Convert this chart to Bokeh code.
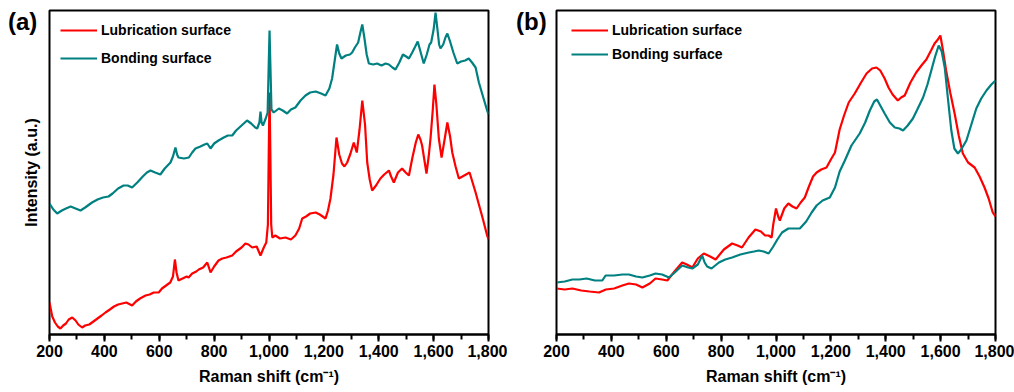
from bokeh.plotting import figure
from bokeh.layouts import row
from bokeh.models import Range1d, NumeralTickFormatter, SingleIntervalTicker, FixedTicker, Div
from bokeh.embed import file_html
from bokeh.resources import INLINE

# ---------------- data ----------------
a_lub_x = [200,210,220,230,240,250,260,270,283,295,305,319,330,345,360,375,390,404,420,435,450,465,480,501,515,530,550,565,580,598,610,625,640,650,657,663,670,685,700,707,720,735,744,760,775,787,800,816,830,845,866,880,900,914,925,939,955,969,981,990,996,999,1002,1005,1008,1012,1023,1040,1060,1080,1096,1110,1121,1135,1150,1170,1185,1206,1215,1224,1235,1246,1256,1266,1275,1285,1297,1309,1320,1330,1340,1350,1358,1367,1376,1390,1406,1420,1437,1445,1455,1470,1485,1498,1510,1522,1535,1544,1552,1558,1566,1574,1582,1589,1597,1603,1610,1619,1629,1640,1650,1660,1668,1680,1692,1705,1718,1731,1742,1753,1765,1780,1795,1800]
a_lub_y = [32,18,12,8,6,9,11,15,17,14,10,7,9,10,13,16,19,22,25,28,30,31,32,29,33,36,39,40,42,42,46,49,52,58,75,62,54,56,58,57,61,63,65,67,72,62,68,74,76,77,79,83,87,91,90,87,88,79,87,92,110,180,242,180,110,97,99,96,97,95,99,106,116,118,121,122,120,116,124,136,160,197,180,171,168,172,181,192,182,205,234,210,172,155,144,149,156,160,164,158,152,162,166,162,159,176,192,200,195,189,175,161,178,197,225,250,230,196,177,195,212,198,182,168,156,158,160,162,152,142,130,115,99,95]

a_bond_x = [200,214,228,245,260,277,295,313,330,355,375,395,415,430,450,470,485,501,520,540,555,568,585,604,620,641,650,659,665,670,690,708,720,732,750,765,775,787,800,816,835,850,866,880,900,920,935,950,957,965,969,973,978,988,995,999,1002,1005,1009,1017,1036,1050,1066,1080,1096,1115,1133,1150,1170,1190,1206,1220,1230,1240,1248,1256,1264,1280,1295,1303,1313,1325,1333,1340,1348,1356,1364,1380,1394,1410,1425,1437,1450,1461,1475,1488,1500,1510,1522,1533,1542,1550,1558,1564,1575,1585,1591,1600,1607,1614,1620,1625,1635,1643,1650,1660,1672,1686,1700,1715,1728,1740,1753,1765,1780,1795,1800]
a_bond_y = [131,125,121,124,126,128,126,124,127,132,135,137,138,141,146,149,149,147,152,158,162,164,162,160,166,172,178,187,180,177,176,177,182,186,188,190,191,186,191,194,197,199,199,204,209,214,211,207,206,212,223,212,209,216,222,270,304,270,225,222,226,224,221,225,227,234,239,242,243,241,239,246,256,275,290,281,276,279,280,282,287,292,302,310,296,280,271,270,271,269,271,270,267,265,272,280,278,276,282,288,293,285,277,271,280,290,292,305,322,305,290,286,290,297,301,293,282,271,273,274,276,272,267,252,238,224,220]

b_lub_x = [200,230,258,290,320,355,380,410,440,464,490,513,540,561,585,604,630,658,675,695,715,737,760,780,810,840,860,876,900,925,945,960,973,984,990,1000,1008,1014,1030,1045,1060,1075,1090,1105,1120,1135,1148,1165,1184,1200,1215,1232,1248,1265,1287,1310,1330,1350,1366,1380,1396,1410,1425,1444,1456,1469,1490,1511,1530,1548,1565,1578,1590,1599,1608,1620,1635,1651,1666,1681,1700,1724,1742,1760,1775,1790,1800]
b_lub_y = [46,45,46,44,43,42,45,46,49,51,50,47,51,56,55,54,63,72,70,67,76,81,78,75,85,91,89,87,97,105,103,99,99,97,110,126,118,114,126,131,128,126,132,137,148,158,162,165,167,175,182,205,219,232,241,252,261,266,267,264,256,247,240,234,237,239,252,262,269,275,284,291,295,299,285,264,242,221,199,181,172,167,158,147,136,122,118]

b_bond_x = [200,230,258,283,310,340,367,379,410,440,464,490,513,540,561,585,610,635,658,680,695,715,731,740,749,765,792,815,840,870,901,920,937,955,973,990,1005,1022,1045,1065,1087,1110,1130,1148,1170,1196,1215,1232,1251,1275,1305,1325,1342,1358,1368,1382,1396,1415,1433,1450,1463,1480,1499,1515,1536,1552,1566,1580,1593,1604,1615,1627,1639,1650,1663,1675,1694,1712,1730,1748,1767,1785,1800]
b_bond_y = [52,53,55,55,56,54,54,59,59,60,60,58,57,59,61,60,57,63,69,67,66,70,79,72,68,66,72,75,77,80,82,83,84,83,81,88,95,102,106,106,106,113,122,129,134,137,147,163,174,189,201,212,224,233,235,228,221,212,207,206,204,209,216,225,237,250,264,278,289,283,267,235,204,186,181,185,194,210,226,236,244,250,254]

series_labels = ["Lubrication surface", "Bonding surface"]
panel_tags = ["(a)", "(b)"]
RED = "#FF0000"
TEAL = "#008080"
FONT = "Liberation Sans"


def make_panel(lub_x, lub_y, bond_x, bond_y, show_ylabel, legend_loc, spacing):
    p = figure(width=507, height=392, output_backend="svg", toolbar_location=None,
               x_range=Range1d(200, 1800), y_range=Range1d(0, 324),
               min_border_left=49, min_border_right=19,
               min_border_top=10, min_border_bottom=58)
    p.grid.visible = False
    p.outline_line_color = "black"
    p.outline_line_width = 2

    p.line(lub_x, lub_y, line_color=RED, line_width=2.2, legend_label=series_labels[0])
    p.line(bond_x, bond_y, line_color=TEAL, line_width=2.2, legend_label=series_labels[1])

    xa = p.xaxis[0]
    xa.ticker = SingleIntervalTicker(interval=200, num_minor_ticks=2)
    xa.formatter = NumeralTickFormatter(format="0,0")
    xa.axis_line_width = 2
    xa.major_tick_line_width = 2
    xa.minor_tick_line_width = 2
    xa.major_tick_in = 0
    xa.major_tick_out = 7
    xa.minor_tick_in = 0
    xa.minor_tick_out = 5
    xa.major_label_text_font = FONT
    xa.major_label_text_font_style = "bold"
    xa.major_label_text_font_size = "16px"
    xa.major_label_text_color = "black"
    xa.major_label_standoff = 3
    xa.axis_label = "Raman shift (cm\u207b\u00b9)"
    xa.axis_label_text_font = FONT
    xa.axis_label_text_font_style = "bold"
    xa.axis_label_text_font_size = "16px"
    xa.axis_label_text_color = "black"
    xa.axis_label_standoff = 8

    ya = p.yaxis[0]
    ya.ticker = FixedTicker(ticks=[])
    if show_ylabel:
        ya.axis_label = "Intensity (a.u.)"
        ya.axis_label_text_font = FONT
        ya.axis_label_text_font_style = "bold"
        ya.axis_label_text_font_size = "16px"
        ya.axis_label_text_color = "black"
        ya.axis_label_standoff = 10

    lg = p.legend[0]
    lg.location = legend_loc
    lg.margin = 0
    lg.padding = 0
    lg.spacing = spacing
    lg.glyph_width = 37
    lg.label_standoff = 4
    lg.label_text_font = FONT
    lg.label_text_font_style = "bold"
    lg.label_text_font_size = "14px"
    lg.label_text_color = "black"
    lg.border_line_alpha = 0
    lg.background_fill_alpha = 0
    return p


def tag_div(text, left):
    return Div(text=text, width=40, height=30,
               styles={"position": "absolute", "left": f"{left}px", "top": "10px",
                       "font-family": FONT, "font-weight": "bold", "font-size": "24px",
                       "line-height": "24px", "color": "black", "margin": "0", "padding": "0"})


pa = make_panel(a_lub_x, a_lub_y, a_bond_x, a_bond_y, True, (11, 266), 8)
pb = make_panel(b_lub_x, b_lub_y, b_bond_x, b_bond_y, False, (15, 270), 4)

layout = row(pa, pb, tag_div(panel_tags[0], 8), tag_div(panel_tags[1], 516))
open("out.html", "w").write(file_html(layout, INLINE))
